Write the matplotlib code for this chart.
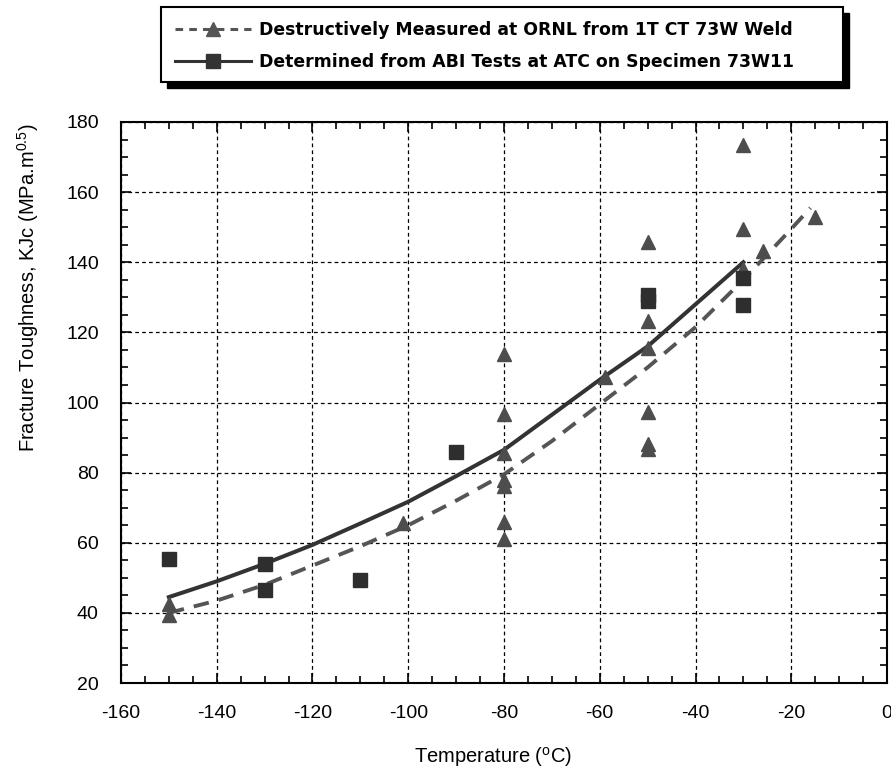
import matplotlib
matplotlib.use('Agg')
import matplotlib.pyplot as plt
from matplotlib.lines import Line2D
from matplotlib.patches import Rectangle
from matplotlib.ticker import MultipleLocator

plt.rcParams['font.family'] = ['Liberation Sans', 'DejaVu Sans']
plt.rcParams['mathtext.fontset'] = 'custom'
plt.rcParams['mathtext.rm'] = 'Liberation Sans'
plt.rcParams['axes.unicode_minus'] = False

# ORNL destructive measurements (1T CT 73W weld)
ornl_temp = [-150, -150, -101, -80, -80, -80, -80, -80, -80, -80, -59,
             -50, -50, -50, -50, -50, -50, -30, -30, -30, -26, -15]
ornl_kjc = [42.5, 39.5, 65.7, 113.8, 96.7, 85.5, 78, 76.3, 65.8, 61, 107.3,
            145.9, 123.3, 115.5, 97.4, 88.2, 86.8, 173.3, 149.5, 138, 143.3, 152.9]

# ABI tests at ATC, specimen 73W11
abi_temp = [-150, -130, -130, -110, -90, -50, -50, -30, -30]
abi_kjc = [55.4, 54, 46.5, 49.4, 85.9, 130.8, 129, 135.5, 127.8]

# fitted curves
ornl_fit_temp = [-150, -140, -130, -120, -110, -100, -90, -80, -70, -60, -50, -40, -30, -20, -16]
ornl_fit_kjc = [40, 43.5, 48, 53.5, 59, 65, 72, 79.5, 89, 99.5, 110, 121.5, 135, 149.5, 155.5]

abi_fit_temp = [-150, -140, -130, -120, -110, -100, -90, -80, -70, -60, -50, -40, -30]
abi_fit_kjc = [44.5, 49, 54, 59.4, 65.5, 71.7, 79, 86.5, 96.5, 106.5, 116, 128, 140]

labels = ['Destructively Measured at ORNL from 1T CT 73W Weld',
          'Determined from ABI Tests at ATC on Specimen 73W11']

tri_col = '#4d4d4d'
sq_col = '#2e2e2e'

fig = plt.figure(figsize=(8.91, 7.71), dpi=100)
ax = fig.add_axes([121/891, 1 - 683/771, 766/891, 561/771])

ax.plot(ornl_fit_temp, ornl_fit_kjc, color='#555555', lw=2.8, dashes=(4, 2.6), zorder=3)
ax.plot(abi_fit_temp, abi_fit_kjc, color='#333333', lw=2.9, zorder=3)
ax.plot(ornl_temp, ornl_kjc, ls='none', marker='^', ms=10, color=tri_col, zorder=4)
ax.plot(abi_temp, abi_kjc, ls='none', marker='s', ms=9.5, color=sq_col, zorder=4)

ax.set_xlim(-160, 0)
ax.set_ylim(20, 180)
ax.xaxis.set_major_locator(MultipleLocator(20))
ax.xaxis.set_minor_locator(MultipleLocator(5))
ax.yaxis.set_major_locator(MultipleLocator(20))
ax.yaxis.set_minor_locator(MultipleLocator(5))
ax.tick_params(which='both', direction='in', top=True, right=True, width=1.2)
ax.tick_params(which='major', length=7, labelsize=14, pad=16)
ax.tick_params(which='minor', length=5)
ax.grid(True, which='major', color='black', lw=0.9, ls=(0, (3, 2.5)))
for sp in ax.spines.values():
    sp.set_linewidth(1.5)

fig.text(493/891, 1 - 757/771, 'Temperature ($^{\\mathrm{o}}$C)', ha='center', va='center', fontsize=14.5)
fig.text(28/891, 1 - 288/771, 'Fracture Toughness, KJc (MPa.m$^{\\mathrm{0.5}}$)',
         rotation=90, ha='center', va='center', fontsize=14.5)

# legend box with black drop shadow
fig.patches.append(Rectangle((167/891, 1 - 88/771), 682/891, 75/771, transform=fig.transFigure,
                             facecolor='black', edgecolor='black', zorder=1))
fig.patches.append(Rectangle((161/891, 1 - 82/771), 682/891, 75/771, transform=fig.transFigure,
                             facecolor='white', edgecolor='black', lw=1.5, zorder=2))

handles = [Line2D([], [], color='#555555', lw=2.2, dashes=(2.5, 2), marker='^', ms=10),
           Line2D([], [], color='#333333', lw=2.2, marker='s', ms=10)]
leg = fig.legend(handles, labels, loc='center left', bbox_to_anchor=(175/891, 1 - 46/771),
                 frameon=False, borderpad=0, borderaxespad=0, handlelength=4.4, handletextpad=0.45,
                 labelspacing=0.85, numpoints=1,
                 prop={'family': 'DejaVu Sans', 'weight': 'bold', 'size': 12.4})
leg.set_zorder(5)

fig.savefig('out.png', dpi=100)
